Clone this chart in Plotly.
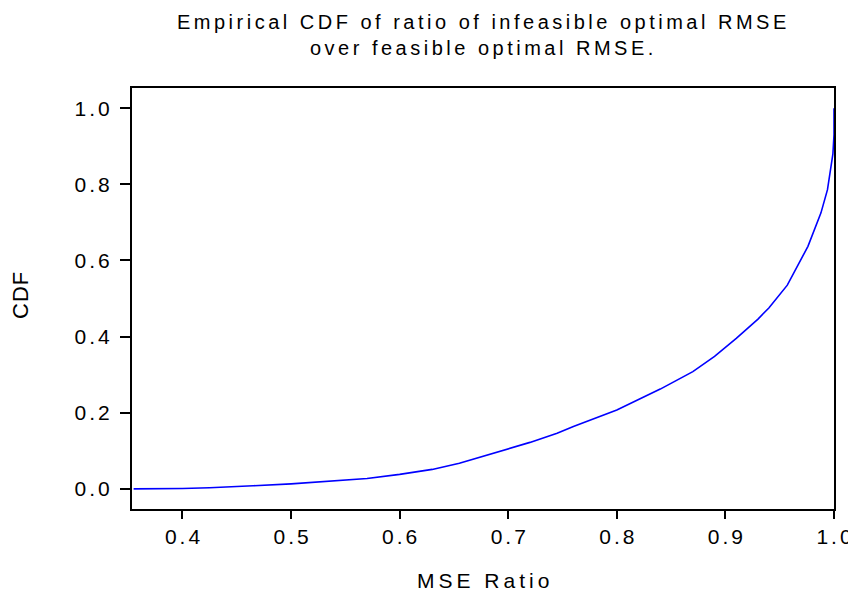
import plotly.graph_objects as go

mse_ratio = [0.355, 0.37, 0.40, 0.425, 0.45, 0.465, 0.50, 0.54, 0.57, 0.60, 0.63, 0.655,
             0.69, 0.72, 0.745, 0.76, 0.80, 0.84, 0.87, 0.89, 0.91, 0.93, 0.94, 0.957,
             0.976, 0.988, 0.994, 0.9965, 0.999, 1.0, 1.0]
cdf = [0.0, 0.0, 0.001, 0.003, 0.005, 0.008, 0.013, 0.021, 0.027, 0.038, 0.051, 0.067,
       0.096, 0.122, 0.146, 0.164, 0.207, 0.262, 0.308, 0.348, 0.395, 0.446, 0.475, 0.535,
       0.637, 0.725, 0.786, 0.83, 0.88, 0.93, 1.0]

x_ticks = [0.4, 0.5, 0.6, 0.7, 0.8, 0.9, 1.0]
x_tick_text = ["0.4", "0.5", "0.6", "0.7", "0.8", "0.9", "1.0"]
y_ticks = [0.0, 0.2, 0.4, 0.6, 0.8, 1.0]
y_tick_text = ["0.0", "0.2", "0.4", "0.6", "0.8", "1.0"]

title_lines = ["Empirical CDF of ratio of infeasible optimal RMSE", "over feasible optimal RMSE."]
x_title = "MSE Ratio"
y_title = "CDF"

font = "Liberation Sans, Arial, sans-serif"


def spaced(s, px):
    # letter spacing between characters only (no trailing gap)
    return '<span style="letter-spacing:%spx">%s</span>%s' % (px, s[:-1], s[-1])


# page body has an 8px margin; figure is sized so plot sits where the reference has it
W, H = 848, 598
ML, MR, MT, MB = 124, 22, 80, 97
PW, PH = W - ML - MR, H - MT - MB

fig = go.Figure()
fig.add_trace(go.Scatter(x=mse_ratio, y=cdf, mode="lines",
                         line=dict(color="#0000ff", width=1.6), showlegend=False,
                         cliponaxis=False))

fig.update_layout(
    width=W, height=H,
    paper_bgcolor="white", plot_bgcolor="white",
    margin=dict(l=ML, r=MR, t=MT, b=MB),
    font=dict(family=font, color="black", size=21),
    xaxis=dict(range=[0.3535, 1.0], tickvals=x_ticks,
               ticktext=[spaced(t, 3) for t in x_tick_text],
               ticks="outside", ticklen=8, tickwidth=1.5, tickcolor="black",
               showline=True, linecolor="black", linewidth=2, mirror=True,
               showgrid=False, zeroline=False, automargin=False,
               ticklabeloverflow="allow", tickfont=dict(size=21)),
    yaxis=dict(range=[-0.053, 1.053], tickvals=y_ticks,
               ticktext=[spaced(t, 3) for t in y_tick_text],
               ticks="outside", ticklen=10, tickwidth=1.5, tickcolor="black",
               showline=True, linecolor="black", linewidth=2, mirror=True,
               showgrid=False, zeroline=False, automargin=False,
               ticklabelstandoff=6, tickfont=dict(size=21)),
    annotations=[
        dict(text="<br>".join(spaced(t, 3.5) for t in title_lines),
             xref="paper", yref="paper",
             x=(473 - ML) / PW, y=1 + (MT - 1) / PH, xanchor="center", yanchor="top",
             showarrow=False, font=dict(size=20, family=font, color="black")),
        dict(text=spaced(x_title, 4), xref="paper", yref="paper",
             x=(475 - ML) / PW, y=-(572 - MT - PH) / PH, xanchor="center", yanchor="middle",
             showarrow=False, font=dict(size=21, family=font, color="black")),
        dict(text=spaced(y_title, 1), xref="paper", yref="paper", textangle=-90,
             x=-(ML - 12) / PW, y=1 - (288 - MT) / PH, xanchor="center", yanchor="middle",
             showarrow=False, font=dict(size=22, family=font, color="black")),
    ],
)

fig.write_html("out.html")
